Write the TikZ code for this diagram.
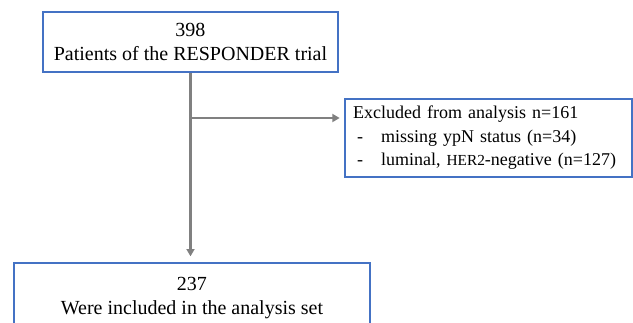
\documentclass[tikz,border=0pt]{standalone}
\usepackage{fontspec}
\setmainfont{Liberation Serif}
\usepackage{tikz}
\usetikzlibrary{arrows.meta, positioning}
\usepackage{xcolor}
\definecolor{boxblue}{RGB}{68, 114, 196}
\definecolor{flowgray}{RGB}{128, 128, 128}

\begin{document}
\begin{tikzpicture}[
  x=0.75pt, y=-0.75pt,
  box/.style={draw=boxblue, line width=1pt, inner sep=0pt, align=center,
              font=\fontsize{15}{18}\selectfont},
  arr/.style={-{Triangle[length=5.5pt, width=6pt]}, line width=1.8pt, flowgray}
]
  \clip (0,0) rectangle (633,322);

  \node[box, minimum width=221.25pt, minimum height=45pt] (pts) at (190.5,42)
    {398\\Patients of the RESPONDER trial};
  \node[box, minimum width=267pt, minimum height=52.5pt] (incl) at (192,298)
    {237\\Were included in the analysis set};
  \node[box, minimum width=215.25pt, minimum height=58.5pt, text width=203pt,
        align=left, font=\fontsize{13.5}{17.6}\selectfont] (excl) at (488.5,138)
    {Excluded from analysis n=161\\
     \makebox[21pt][l]{\hspace{3pt}-}missing ypN status (n=34)\\
     \makebox[21pt][l]{\hspace{3pt}-}luminal, {\fontsize{11.5}{14}\selectfont HER2}-negative (n=127)};

  \coordinate (split) at (pts.south |- 0,118);
  \draw[arr, shorten >=4.5pt] (pts.south) -- (pts.south |- incl.north);
  \draw[arr, shorten >=3.5pt] (split) -- (split -| excl.west);
\end{tikzpicture}
\end{document}
